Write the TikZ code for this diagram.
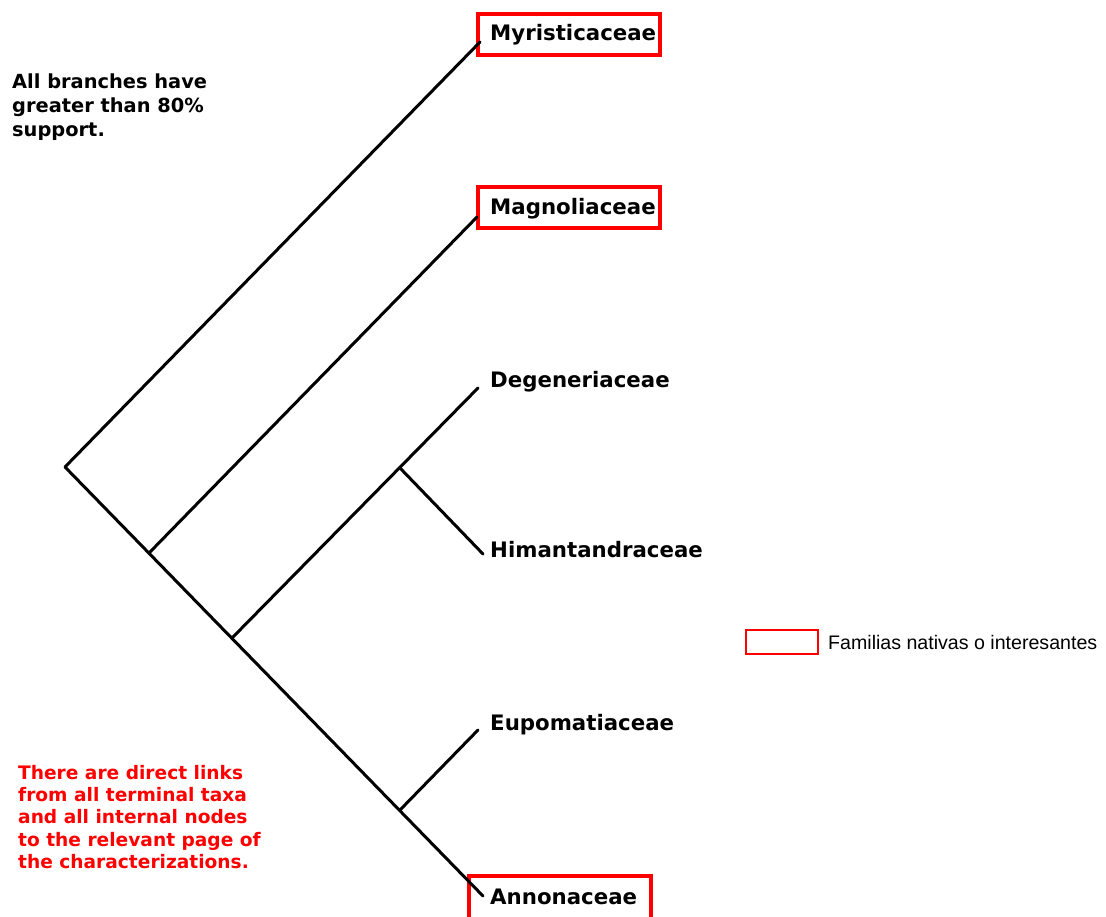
\documentclass[tikz,border=0pt]{standalone}
\usepackage{fontspec}
\setmainfont{DejaVu Sans}
\newfontfamily\legendfont{Liberation Sans}
\begin{document}
\begin{tikzpicture}[x=1pt,y=-1pt,
  branch/.style={line width=3pt,black,line cap=round,line join=round},
  taxon/.style={anchor=base west,inner sep=0pt,font=\bfseries\fontsize{21.3}{24}\selectfont},
  hl/.style={draw=red,line width=4pt},
  note/.style={anchor=north west,inner sep=0pt,align=left,font=\bfseries\fontsize{19.4}{24}\selectfont},
  rednote/.style={anchor=north west,inner sep=0pt,align=left,text=red,font=\bfseries\fontsize{18.6}{22.3}\selectfont}]
\useasboundingbox (0,0) rectangle (1106,916);
% internal nodes
\coordinate (root) at (65,467);
\coordinate (nA) at (150,552);
\coordinate (nB) at (233,637);
\coordinate (nC) at (400,468);
\coordinate (nD) at (400,810);
% tips
\coordinate (tMyr) at (480,42);
\coordinate (tMag) at (477,217);
\coordinate (tDeg) at (478,388);
\coordinate (tHim) at (483,554);
\coordinate (tEup) at (478,730);
\coordinate (tAnn) at (483,896);
% labels
\node[taxon] (Myr) at (490,40) {Myristicaceae};
\node[taxon] (Mag) at (490,214) {Magnoliaceae};
\node[taxon] (Deg) at (490,387) {Degeneriaceae};
\node[taxon] (Him) at (490,557) {Himantandraceae};
\node[taxon] (Eup) at (490,730) {Eupomatiaceae};
\node[taxon] (Ann) at (490,904) {Annonaceae};
% highlight boxes
\draw[hl] (478,14) rectangle (660,55);
\draw[hl] (478,187) rectangle (660,228);
\draw[hl] (469,876) rectangle (651,920);
% branches
\draw[branch] (tMyr) -- (root) -- (tAnn);
\draw[branch] (nA) -- (tMag);
\draw[branch] (nB) -- (tDeg);
\draw[branch] (nC) -- (tHim);
\draw[branch] (nD) -- (tEup);
% notes
\node[note] (n1) at (12,74) {All branches have\\greater than 80\%\\support.};
\node[rednote] (n2) at (18,765) {There are direct links\\from all terminal taxa\\and all internal nodes\\to the relevant page of\\the characterizations.};
% legend
\node[draw=red,line width=2pt,minimum width=72pt,minimum height=24pt,inner sep=0pt] (legbox) at (782,642) {};
\node[anchor=west,inner sep=0pt,font=\legendfont\fontsize{19.6}{22}\selectfont] (legtext) at (828,642) {Familias nativas o interesantes};
\end{tikzpicture}
\end{document}
